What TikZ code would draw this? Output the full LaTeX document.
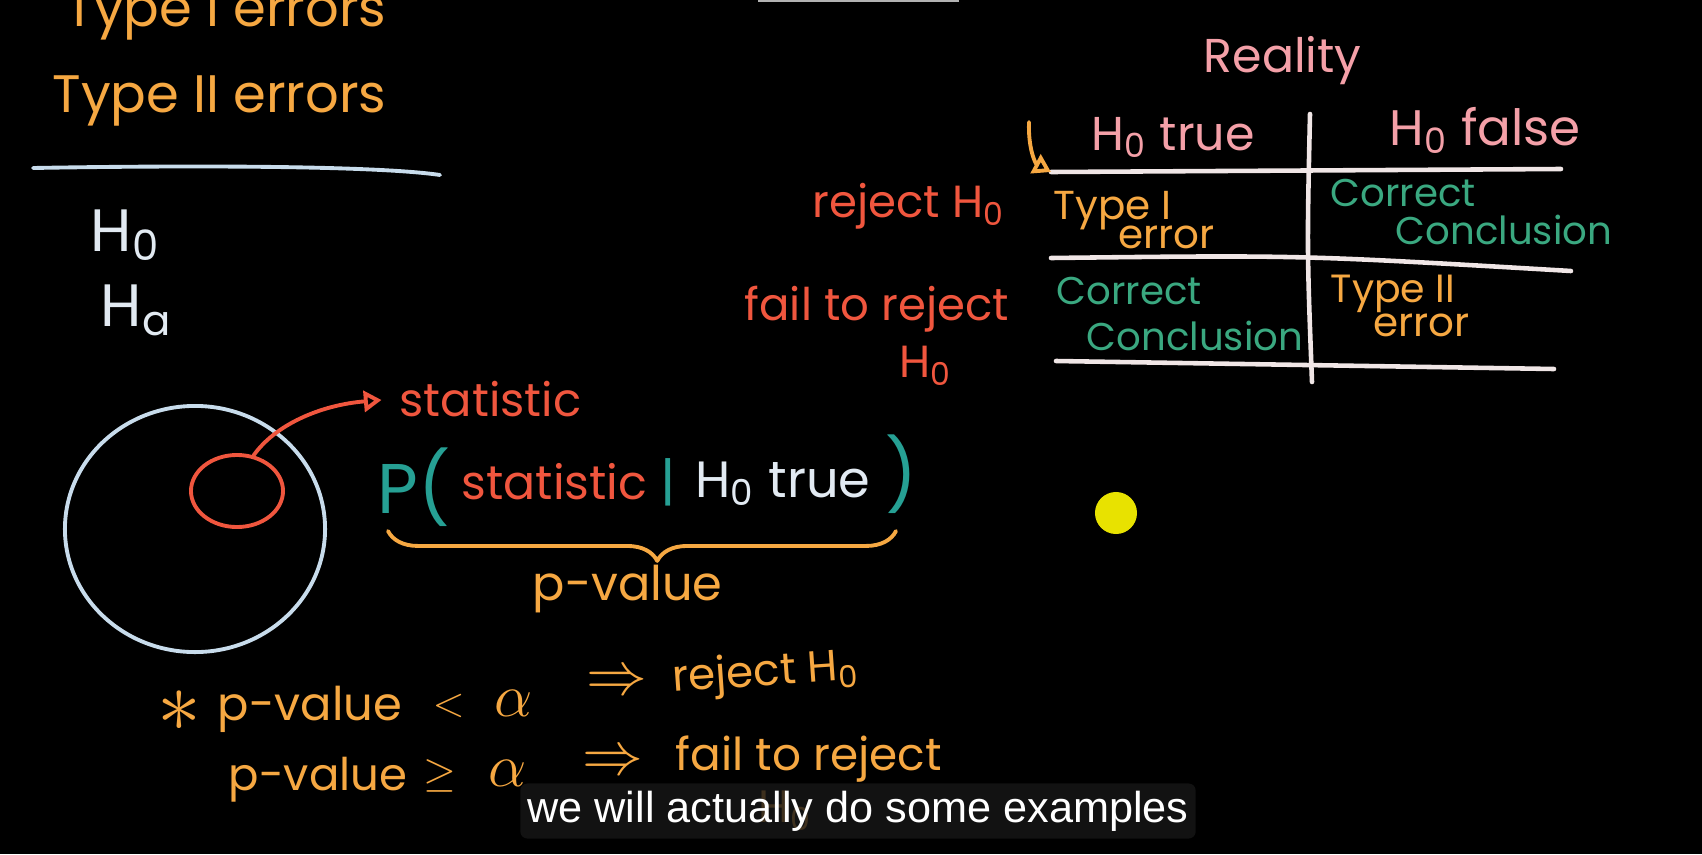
\documentclass[tikz,border=0pt]{standalone}
\usepackage{fontspec}
\setmainfont{Poppins}
\newfontfamily\captionfont{Liberation Sans}
\usetikzlibrary{arrows.meta, positioning, shapes.geometric, decorations.pathreplacing}

\definecolor{chalkorange}{RGB}{246,168,66}
\definecolor{chalkred}{RGB}{240,86,62}
\definecolor{chalkteal}{RGB}{38,160,148}
\definecolor{chalkpink}{RGB}{244,160,168}
\definecolor{chalkgreen}{RGB}{58,168,128}
\definecolor{chalkblue}{RGB}{200,220,236}
\definecolor{chalkwhite}{RGB}{226,234,242}
\definecolor{tableline}{RGB}{240,230,230}
\definecolor{dotyellow}{RGB}{232,226,0}
\definecolor{capbg}{RGB}{22,22,22}

\newcommand{\fsz}[1]{\fontsize{#1}{#1}\selectfont}

\begin{document}
\begin{tikzpicture}[x=0.01cm, y=-0.01cm,
    hand/.style={inner sep=0pt, anchor=base west},
    chalk/.style={line width=1.1pt, line cap=round, line join=round},
    rule/.style={chalk, tableline, line width=1.3pt}]
  \useasboundingbox (0,0) rectangle (1702,854);
  \clip (0,0) rectangle (1702,854);
  \fill[black] (0,0) rectangle (1702,854);
  \draw[gray!60, line width=0.8pt] (759,-10) rectangle (958,1);

  % left column
  \node[hand, chalkorange, font=\fsz{15}] (typeone) at (65,26) {Type I errors};
  \node[hand, chalkorange, font=\fsz{15}] (typetwo) at (52,112) {Type II errors};
  \draw[chalk, chalkblue] (33,168) .. controls (200,165) and (380,166) .. (440,175);
  \node[hand, chalkwhite, font=\fsz{17}] (nullhyp) at (90,251) {H\textsubscript{0}};
  \node[hand, chalkwhite, font=\fsz{17}] (althyp) at (100,326) {H\textsubscript{a}};

  \node[ellipse, draw=chalkblue, chalk, minimum width=2.6cm, minimum height=2.46cm] (population) at (195,529) {};
  \node[ellipse, draw=chalkred, chalk, minimum width=0.92cm, minimum height=0.72cm] (sample) at (237,491) {};
  \node[hand, chalkred, font=\fsz{13.2}] (statlabel) at (399,416) {statistic};
  \draw[chalk, chalkred, -{Triangle[open, length=5pt, width=6pt]}, shorten >=5pt]
    (sample.65) .. controls (275,425) and (320,405) .. (statlabel.west);

  \node[hand, chalkteal, font=\fsz{20}] (probopen) at (377,513) {P(};
  \node[hand, chalkred, font=\fsz{13.5}] (probstat) at (461,499) {statistic};
  \node[hand, chalkteal, font=\fsz{15}] (givenbar) at (660,500) {|};
  \node[hand, chalkwhite, font=\fsz{14.5}] (probcond) at (695,497) {H\textsubscript{0} true};
  \node[hand, chalkteal, font=\fsz{20}] (probclose) at (885,500) {)};
  \draw[chalk, chalkorange, decorate, decoration={brace, mirror, amplitude=8.5pt, aspect=0.53}]
    (388,531) -- (896,531);
  \node[hand, chalkorange, font=\fsz{13.6}] (pvalue) at (532,600) {p-value};

  % decision rule
  \node[chalkorange, font=\fsz{24}, inner sep=0pt] (star) at (179,711) {$\ast$};
  \node[hand, chalkorange, font=\fsz{13.2}] (ruleonep) at (217,720) {p-value};
  \node[hand, chalkorange, font=\fsz{12}] (ruleonelt) at (432,716) {$<$};
  \node[hand, chalkorange, font=\fsz{19}] (ruleonealpha) at (494,716) {$\alpha$};
  \node[chalkorange, font=\fsz{18}, inner sep=0pt] (ruleoneimp) at (617,683) {$\Rightarrow$};
  \node[hand, chalkorange, font=\fsz{12.4}, rotate=4] (ruleonerej) at (673,692) {reject H\textsubscript{0}};
  \node[hand, chalkorange, font=\fsz{12.8}] (ruletwop) at (228,790) {p-value};
  \node[hand, chalkorange, font=\fsz{12}] (ruletwoge) at (423,786) {$\geq$};
  \node[hand, chalkorange, font=\fsz{19}] (ruletwoalpha) at (488,786) {$\alpha$};
  \node[chalkorange, font=\fsz{18}, inner sep=0pt] (ruletwoimp) at (613,763) {$\Rightarrow$};
  \node[hand, chalkorange, font=\fsz{12.9}] (ruletworej) at (675,770) {fail to reject};
  \node[hand, chalkorange, font=\fsz{12.9}] (ruletwonull) at (758,822) {H\textsubscript{0}};

  \node[fill=capbg, fill opacity=0.82, text opacity=1, text=white, inner sep=0pt, rounded corners=2pt,
    minimum width=6.75cm, minimum height=0.55cm, font=\captionfont\fsz{12.3}] (caption) at (858,811)
    {we will actually do some examples};

  % error table
  \node[hand, chalkpink, font=\fsz{13.5}] (reality) at (1203,72) {Reality};
  \node[hand, chalkpink, font=\fsz{13.5}] (colnull) at (1091,150) {H\textsubscript{0} true};
  \node[hand, chalkpink, font=\fsz{14.2}] (colalt) at (1389,145) {H\textsubscript{0} false};
  \coordinate (gridtop) at (1310,114);
  \coordinate (gridbot) at (1312,382);
  \coordinate (rowaW) at (1051,172);
  \coordinate (rowaE) at (1561,169);
  \coordinate (rowbW) at (1051,258);
  \coordinate (rowbE) at (1571,271);
  \coordinate (rowcW) at (1056,361);
  \coordinate (rowcE) at (1554,369);
  \coordinate (cue) at (1029,122);
  \draw[rule] (gridtop) .. controls (1307,250) .. (gridbot);
  \draw[rule] (rowaW) -- (rowaE);
  \draw[rule] (rowbW) .. controls (1300,255) .. (rowbE);
  \draw[rule] (rowcW) -- (rowcE);
  \draw[chalk, chalkorange, -{Triangle[open, length=5pt, width=6pt]}]
    (cue) .. controls (1028,150) and (1036,164) .. (rowaW);

  \node[hand, chalkred, font=\fsz{12.8}] (rowreject) at (812,217) {reject H\textsubscript{0}};
  \node[hand, chalkred, font=\fsz{12.8}] (rowfail) at (744,320) {fail to reject};
  \node[hand, chalkred, font=\fsz{12.8}] (rowfailnull) at (899,377) {H\textsubscript{0}};
  \node[hand, chalkorange, font=\fsz{11.5}] (typeonecell) at (1053,219) {Type I};
  \node[hand, chalkorange, font=\fsz{11.5}] (typeoneerr) at (1118,248) {error};
  \node[hand, chalkgreen, font=\fsz{11}] (correcta) at (1330,206) {Correct};
  \node[hand, chalkgreen, font=\fsz{11}] (conclusiona) at (1395,244) {Conclusion};
  \node[hand, chalkgreen, font=\fsz{11}] (correctb) at (1056,304) {Correct};
  \node[hand, chalkgreen, font=\fsz{11}] (conclusionb) at (1086,350) {Conclusion};
  \node[hand, chalkorange, font=\fsz{11.2}] (typetwocell) at (1330,302) {Type II};
  \node[hand, chalkorange, font=\fsz{11.5}] (typetwoerr) at (1373,336) {error};

  \fill[dotyellow] (1116,513) circle [radius=0.21cm];
\end{tikzpicture}
\end{document}
